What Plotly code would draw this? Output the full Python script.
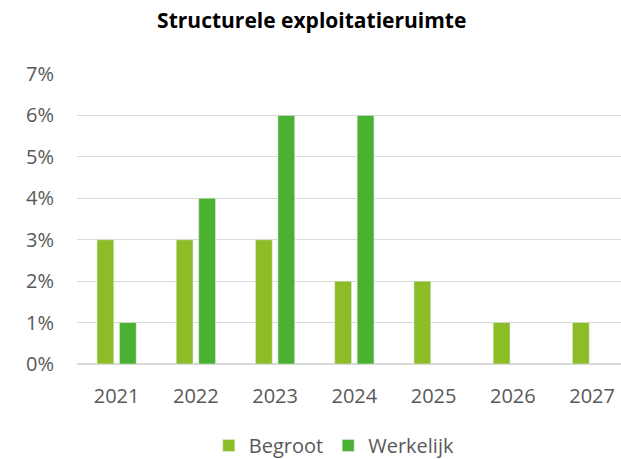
import plotly.graph_objects as go

years = ["2021", "2022", "2023", "2024", "2025", "2026", "2027"]
begroot = [3, 3, 3, 2, 2, 1, 1]
werkelijk = [1, 4, 6, 6, None, None, None]
y_ticks = [0, 1, 2, 3, 4, 5, 6, 7]
y_labels = [f"{v}%" for v in y_ticks]

font_family = "Open Sans, Noto Sans, sans-serif"

fig = go.Figure()
fig.add_trace(go.Bar(x=years, y=begroot, name="Begroot", marker_color="#8CBD26"))
fig.add_trace(go.Bar(x=years, y=werkelijk, name="Werkelijk", marker_color="#4BB131"))

fig.update_layout(
    width=621, height=459,
    margin=dict(l=77, r=0, t=74, b=95, autoexpand=False),
    paper_bgcolor="white", plot_bgcolor="white",
    barmode="group", bargap=0.433, bargroupgap=0.253,
    title=dict(text="<b>Structurele exploitatieruimte</b>", x=0.502, xref="container",
               xanchor="center", y=0.955, yref="container", yanchor="middle",
               automargin=False,
               font=dict(family=font_family, size=21, color="#000000")),
    font=dict(family=font_family, color="#595959", size=20),
    legend=dict(orientation="h", x=0.473, xanchor="center", y=-0.348, yanchor="bottom",
                font=dict(size=20, color="#595959"), itemwidth=30,
                traceorder="normal"),
    showlegend=True,
)
fig.update_xaxes(type="category", range=[-0.5, 6.365], showgrid=False, ticks="",
                 showline=False, tickfont=dict(size=20, color="#595959"),
                 ticklabelstandoff=18, automargin=False)
fig.update_yaxes(range=[0, 7], tickvals=y_ticks, ticktext=y_labels, showgrid=True,
                 gridcolor="#D9D9D9", gridwidth=1, zeroline=True, zerolinecolor="#D9D9D9",
                 ticks="", showline=False, tickfont=dict(size=20, color="#595959"),
                 ticklabelstandoff=22, automargin=False)

fig.write_html("out.html", config={"displayModeBar": False},
               post_script="document.body.style.margin='0';")
